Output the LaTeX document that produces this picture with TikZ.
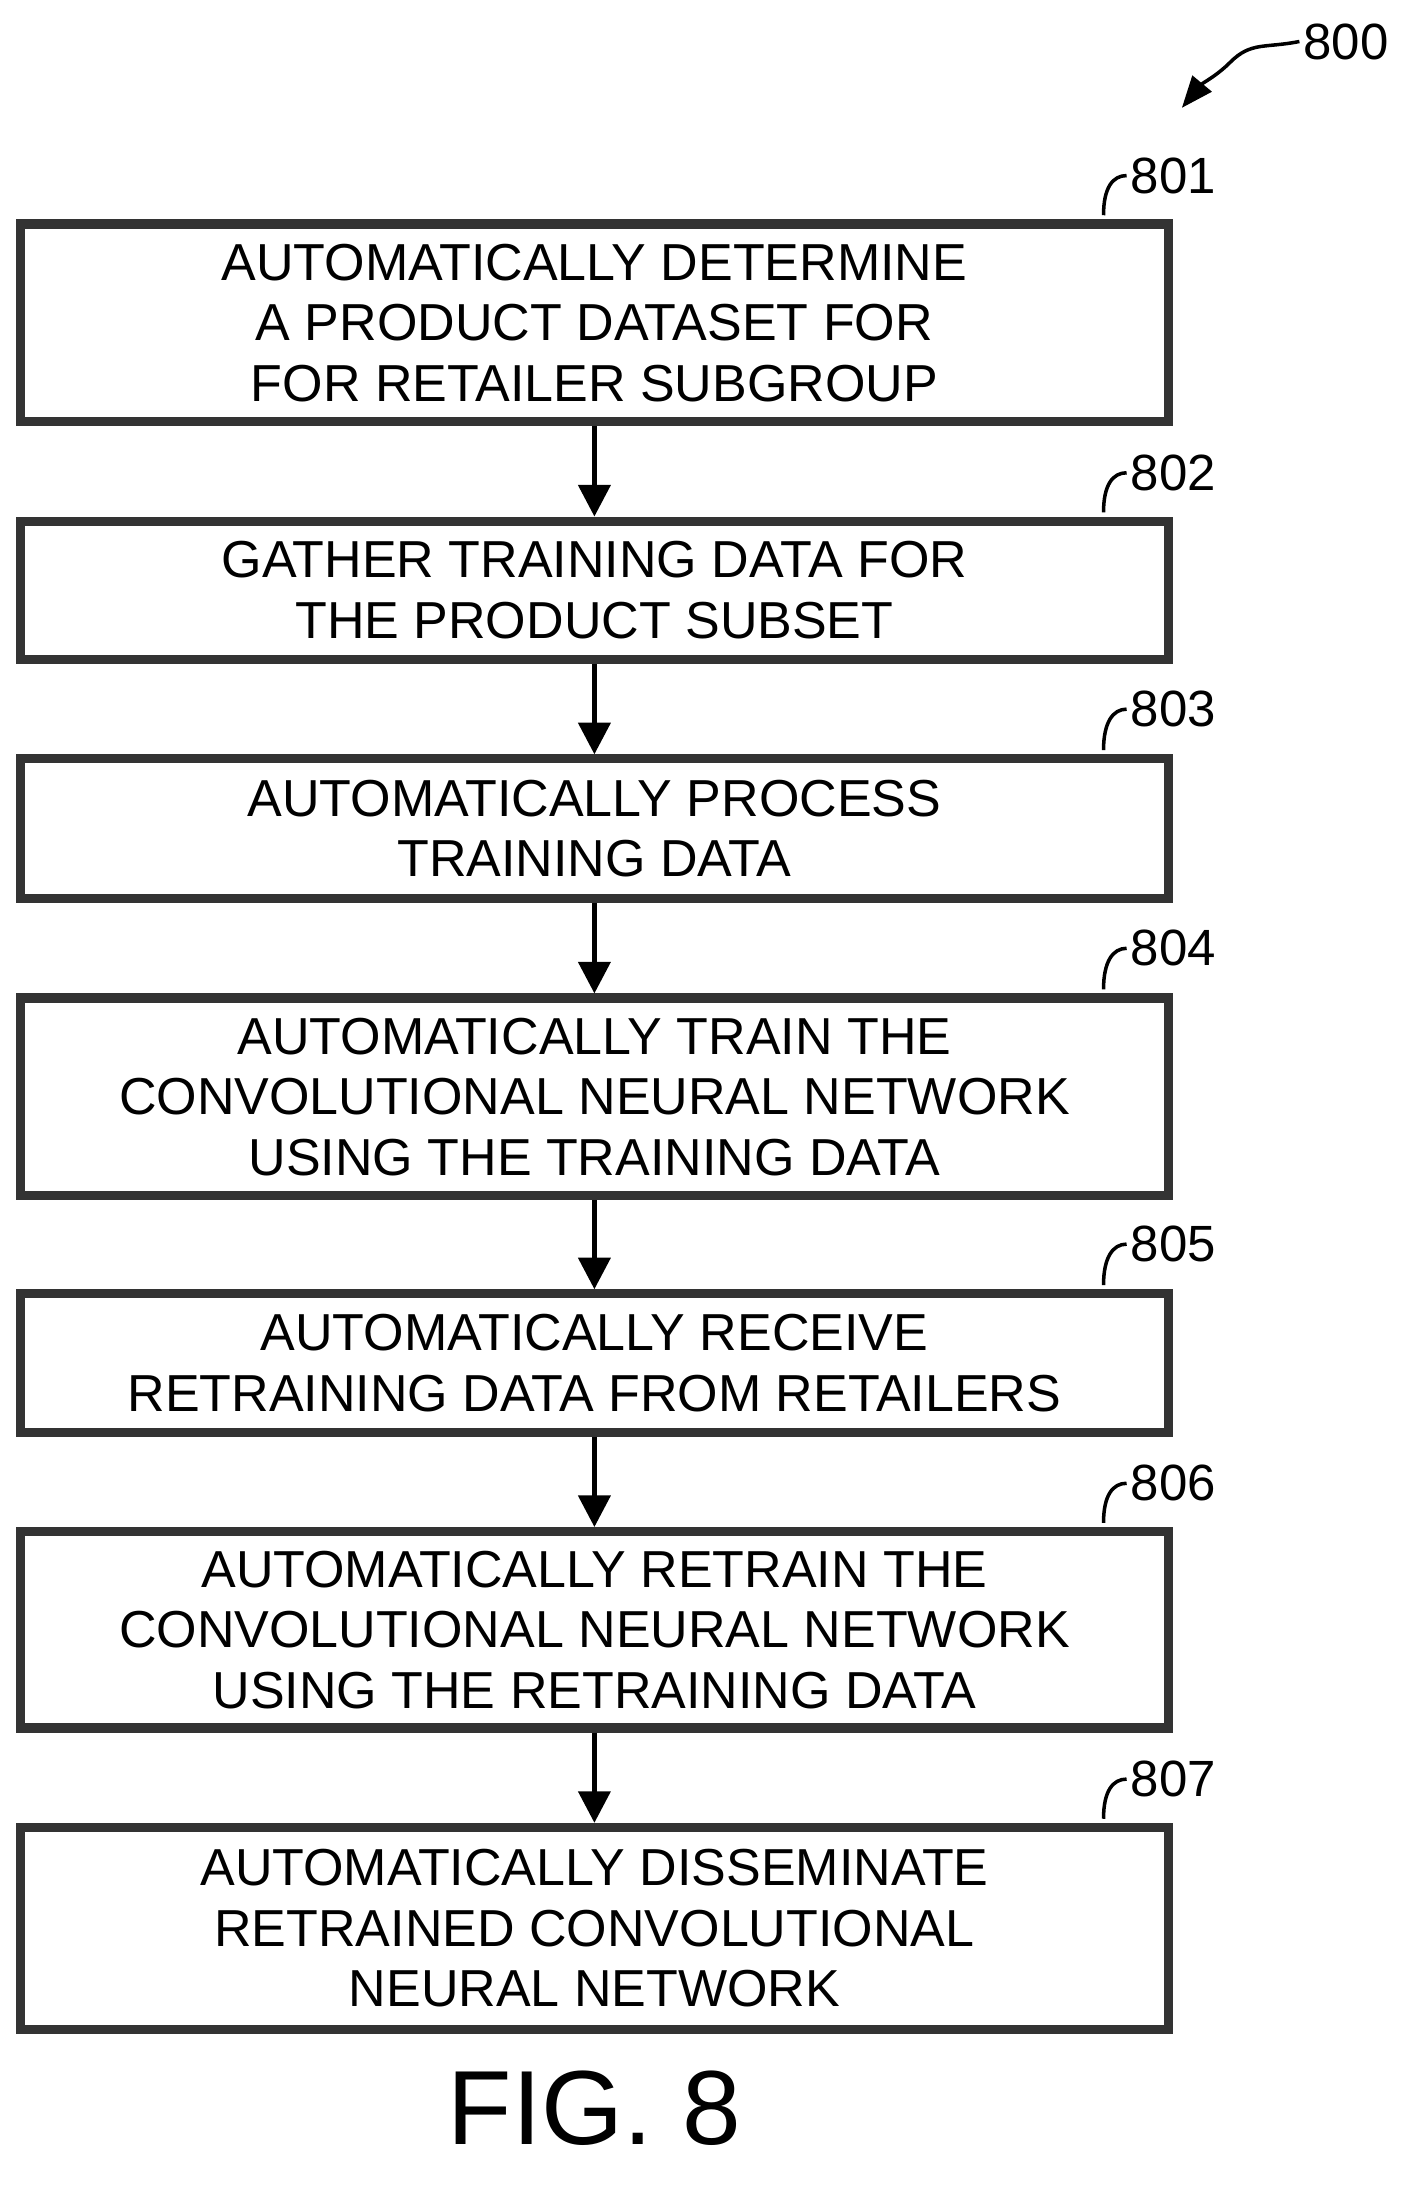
\documentclass[tikz,border=0pt]{standalone}
\usepackage{fontspec}
\setmainfont{Liberation Sans}
\usetikzlibrary{arrows.meta}
\begin{document}
\begin{tikzpicture}[x=0.01382cm,y=-0.01382cm,
 box/.style={draw=black!80,line width=2.6pt,minimum width=830*0.01382cm,align=center,inner sep=0pt,
   font=\fontsize{14.8}{17.2}\selectfont},
 arr/.style={line width=1.5pt,-{Triangle[length=9pt,width=9pt]}},
 lab/.style={font=\fontsize{14.5}{16}\selectfont,anchor=west,inner sep=1pt},
 lead/.style={line width=1pt}]
\useasboundingbox (0,0) rectangle (1024,1585);
\node[box,minimum height=143*0.01382cm] (b1) at (430,233.5) {AUTOMATICALLY DETERMINE\\A PRODUCT DATASET FOR\\FOR RETAILER SUBGROUP};
\node[box,minimum height=100*0.01382cm] (b2) at (430,427) {GATHER TRAINING DATA FOR\\THE PRODUCT SUBSET};
\node[box,minimum height=101*0.01382cm] (b3) at (430,599.5) {AUTOMATICALLY PROCESS\\TRAINING DATA};
\node[box,minimum height=143*0.01382cm] (b4) at (430,793.5) {AUTOMATICALLY TRAIN THE\\CONVOLUTIONAL NEURAL NETWORK\\USING THE TRAINING DATA};
\node[box,minimum height=100*0.01382cm] (b5) at (430,986) {AUTOMATICALLY RECEIVE\\RETRAINING DATA FROM RETAILERS};
\node[box,minimum height=142*0.01382cm] (b6) at (430,1179) {AUTOMATICALLY RETRAIN THE\\CONVOLUTIONAL NEURAL NETWORK\\USING THE RETRAINING DATA};
\node[box,minimum height=146*0.01382cm] (b7) at (430,1395) {AUTOMATICALLY DISSEMINATE\\RETRAINED CONVOLUTIONAL\\NEURAL NETWORK};
\foreach \a/\b in {b1/b2,b2/b3,b3/b4,b4/b5,b5/b6,b6/b7}
  \draw[arr] (\a.south) -- (\b.north);
\foreach \n/\y/\t in {b1/127/801,b2/342/802,b3/513/803,b4/686/804,b5/900/805,b6/1073/806,b7/1287/807}{
  \node[lab] (l\t) at (815,\y) {\t};
  \draw[lead] (\n.north east) ++(-50,-3) .. controls +(0,-20) and +(-10,0) .. (l\t.west);
}
\node[lab] (l800) at (940,30) {800};
\coordinate (t800) at (855,78);
\draw[lead,-{Triangle[length=9pt,width=7pt]}] (l800.west) .. controls (915,35) and (905,30) .. (890,45) .. controls (880,55) and (870,60) .. (t800);
\node[font=\fontsize{30}{32}\selectfont] (fig) at (430,1525) {FIG. 8};
\end{tikzpicture}
\end{document}
